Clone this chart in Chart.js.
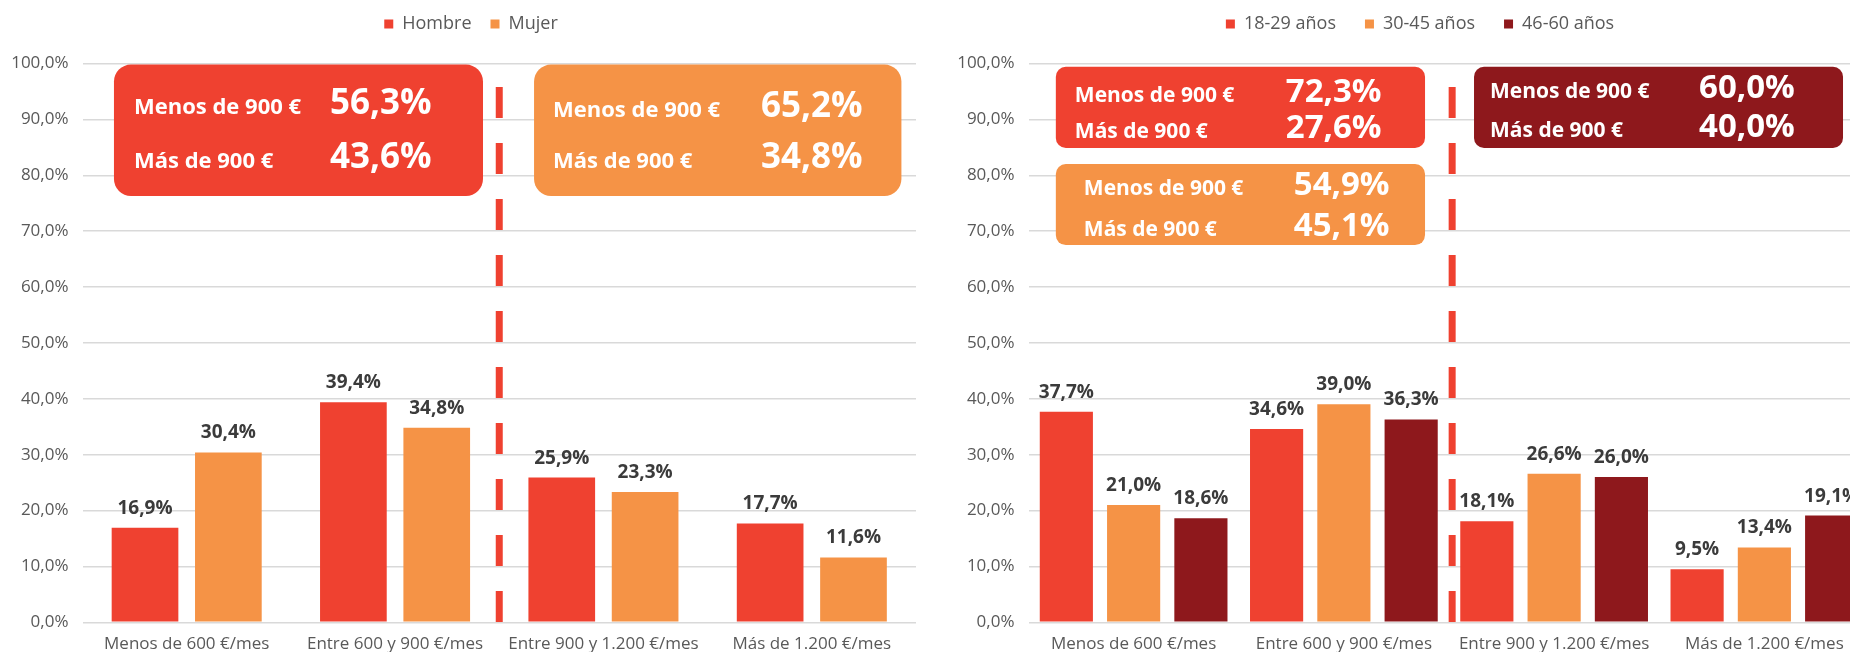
<!DOCTYPE html>
<html lang="es">
<head>
    <meta charset="UTF-8">
    <title>Ingresos mensuales por sexo y edad</title>
    <script src="https://cdn.jsdelivr.net/npm/chart.js"></script>
    <style>
        html, body { margin: 0; padding: 0; background: #fff; overflow: hidden; }
        #wrap { position: relative; width: 1850px; height: 652px; overflow: hidden; }
        canvas { position: absolute; top: 0; }
        #sexo { left: 0; }
        #edad { left: 925px; }
    </style>
</head>
<body>
    <div id="wrap">
        <canvas id="sexo" width="942" height="652"></canvas>
        <canvas id="edad" width="990" height="652"></canvas>
    </div>

    <script>
        // Data
        const categories = ['Menos de 600 €/mes', 'Entre 600 y 900 €/mes', 'Entre 900 y 1.200 €/mes', 'Más de 1.200 €/mes'];
        const yTickLabels = ['0,0%', '10,0%', '20,0%', '30,0%', '40,0%', '50,0%', '60,0%', '70,0%', '80,0%', '90,0%', '100,0%'];

        const hombre = [16.9, 39.4, 25.9, 17.7];
        const mujer = [30.4, 34.8, 23.3, 11.6];

        const edad18a29 = [37.7, 34.6, 18.1, 9.5];
        const edad30a45 = [21.0, 39.0, 26.6, 13.4];
        const edad46a60 = [18.6, 36.3, 26.0, 19.1];

        // Totals below / above 900 € shown in the boxes
        const resumenLabels = ['Menos de 900 €', 'Más de 900 €'];
        const resumenHombre = [56.3, 43.6];
        const resumenMujer = [65.2, 34.8];
        const resumen18a29 = [72.3, 27.6];
        const resumen30a45 = [54.9, 45.1];
        const resumen46a60 = [60.0, 40.0];

        const ROJO = '#EF4130';
        const NARANJA = '#F59346';
        const GRANATE = '#8E181C';

        Chart.defaults.font.family = '"Open Sans", sans-serif';

        const pct = v => v.toFixed(1).replace('.', ',') + '%';

        function roundBox(ctx, x, y, w, h, r) {
            ctx.beginPath();
            ctx.moveTo(x + r, y);
            ctx.arcTo(x + w, y, x + w, y + h, r);
            ctx.arcTo(x + w, y + h, x, y + h, r);
            ctx.arcTo(x, y + h, x, y, r);
            ctx.arcTo(x, y, x + w, y, r);
            ctx.closePath();
        }

        // value labels above every bar
        const barLabels = {
            id: 'barLabels',
            afterDatasetsDraw(chart) {
                const ctx = chart.ctx;
                ctx.save();
                ctx.font = 'bold 19px "Open Sans"';
                ctx.fillStyle = '#3b3b3b';
                ctx.textAlign = 'center';
                ctx.textBaseline = 'alphabetic';
                chart.data.datasets.forEach((ds, i) => {
                    chart.getDatasetMeta(i).data.forEach((bar, j) => {
                        ctx.fillText(pct(ds.data[j]), bar.x, bar.y - 14);
                    });
                });
                ctx.restore();
            }
        };

        // summary boxes + dashed divider at 900 €
        const cajas = {
            id: 'cajas',
            afterDraw(chart, args, o) {
                const { ctx, scales: { x, y } } = chart;
                ctx.save();
                const dx = x.getPixelForValue(o.divider);
                ctx.strokeStyle = ROJO;
                ctx.lineWidth = 7;
                ctx.setLineDash([31, 25]);
                ctx.beginPath();
                ctx.moveTo(dx, y.getPixelForValue(95.8));
                ctx.lineTo(dx, y.getPixelForValue(0) + 3);
                ctx.stroke();
                ctx.setLineDash([]);

                o.boxes.forEach(b => {
                    const left = x.getPixelForValue(b.x0);
                    const right = x.getPixelForValue(b.x1);
                    const top = y.getPixelForValue(b.yTop);
                    const bottom = y.getPixelForValue(b.yBottom);
                    ctx.fillStyle = b.color;
                    roundBox(ctx, left, top, right - left, bottom - top, o.radius);
                    ctx.fill();
                    ctx.fillStyle = '#fff';
                    ctx.textAlign = 'left';
                    ctx.textBaseline = 'alphabetic';
                    resumenLabels.forEach((lab, k) => {
                        ctx.font = 'bold ' + o.labelSize + 'px "Open Sans"';
                        ctx.fillText(lab, left + b.labelX, top + b.rows[k]);
                        ctx.font = 'bold ' + o.valueSize + 'px "Open Sans"';
                        ctx.fillText(pct(b.values[k]), left + b.valueX, top + b.rows[k]);
                    });
                });
                ctx.restore();
            }
        };

        // legend centred on the canvas, with extra room under it
        const leyenda = {
            id: 'leyenda',
            beforeLayout(chart, args, o) {
                const lg = chart.legend;
                if (lg && !lg._ajustada) {
                    const fit = lg.fit;
                    lg.fit = function () {
                        fit.call(this);
                        this.height = o.alto;
                    };
                    lg._ajustada = true;
                }
            },
            afterLayout(chart, args, o) {
                const lg = chart.legend;
                const p = chart.options.plugins.legend.labels.padding;
                lg.left = 0;
                lg.right = chart.width;
                lg.width = chart.width;
                lg.top = o.centro - p - 9;
                lg.bottom = lg.top + lg.height;
            }
        };

        function opciones(yWidth, padRight, legendPadding, cajasOpts) {
            return {
                responsive: false,
                animation: false,
                events: [],
                layout: { padding: { left: 0, right: padRight, top: 0, bottom: 0 } },
                plugins: {
                    tooltip: { enabled: false },
                    legend: {
                        position: 'top',
                        labels: {
                            color: '#595959',
                            font: { size: 18 },
                            boxWidth: 9,
                            boxHeight: 9,
                            padding: legendPadding
                        }
                    },
                    leyenda: { alto: 63.5, centro: 24 },
                    cajas: cajasOpts
                },
                scales: {
                    x: {
                        grid: { display: false, drawTicks: false },
                        border: { display: false },
                        ticks: { color: '#595959', font: { size: 17 }, padding: 12, maxRotation: 0, autoSkip: false },
                        afterFit: s => { s.height = 29.7; }
                    },
                    y: {
                        min: 0,
                        max: 100,
                        grid: { color: '#d9d9d9', lineWidth: 1.5, drawTicks: false },
                        border: { display: false },
                        ticks: {
                            stepSize: 10,
                            color: '#595959',
                            font: { size: 17 },
                            padding: 14,
                            callback: (v, i) => yTickLabels[i]
                        },
                        afterFit: s => { s.width = yWidth; }
                    }
                }
            };
        }

        // By sex
        new Chart(document.getElementById('sexo'), {
            type: 'bar',
            data: {
                labels: categories,
                datasets: [
                    { label: 'Hombre', data: hombre, backgroundColor: ROJO, barPercentage: 0.8, categoryPercentage: 0.8 },
                    { label: 'Mujer', data: mujer, backgroundColor: NARANJA, barPercentage: 0.8, categoryPercentage: 0.8 }
                ]
            },
            options: opciones(82.5, 26, 19, {
                divider: 1.5,
                radius: 17,
                labelSize: 22,
                valueSize: 35,
                boxes: [
                    { color: ROJO, values: resumenHombre, x0: -0.349, x1: 1.422, yTop: 99.8, yBottom: 76.3, labelX: 20, valueX: 216, rows: [49.5, 103.5] },
                    { color: NARANJA, values: resumenMujer, x0: 1.667, x1: 3.43, yTop: 99.8, yBottom: 76.3, labelX: 19, valueX: 227, rows: [52, 103.5] }
                ]
            }),
            plugins: [barLabels, cajas, leyenda]
        });

        // By age
        new Chart(document.getElementById('edad'), {
            type: 'bar',
            data: {
                labels: categories,
                datasets: [
                    { label: '18-29 años', data: edad18a29, backgroundColor: ROJO, barPercentage: 0.79, categoryPercentage: 0.96 },
                    { label: '30-45 años', data: edad30a45, backgroundColor: NARANJA, barPercentage: 0.79, categoryPercentage: 0.96 },
                    { label: '46-60 años', data: edad46a60, backgroundColor: GRANATE, barPercentage: 0.79, categoryPercentage: 0.96 }
                ]
            },
            options: opciones(103.5, 45.5, 29, {
                divider: 1.515,
                radius: 10,
                labelSize: 21,
                valueSize: 33,
                boxes: [
                    { color: ROJO, values: resumen18a29, x0: -0.37, x1: 1.386, yTop: 99.4, yBottom: 84.9, labelX: 19, valueX: 230, rows: [35, 71.6] },
                    { color: NARANJA, values: resumen30a45, x0: -0.37, x1: 1.386, yTop: 82.0, yBottom: 67.5, labelX: 28, valueX: 238, rows: [30.7, 72.4] },
                    { color: GRANATE, values: resumen46a60, x0: 1.619, x1: 3.374, yTop: 99.4, yBottom: 84.9, labelX: 16, valueX: 225, rows: [31.6, 70] }
                ]
            }),
            plugins: [barLabels, cajas, leyenda]
        });
    </script>
</body>
</html>
